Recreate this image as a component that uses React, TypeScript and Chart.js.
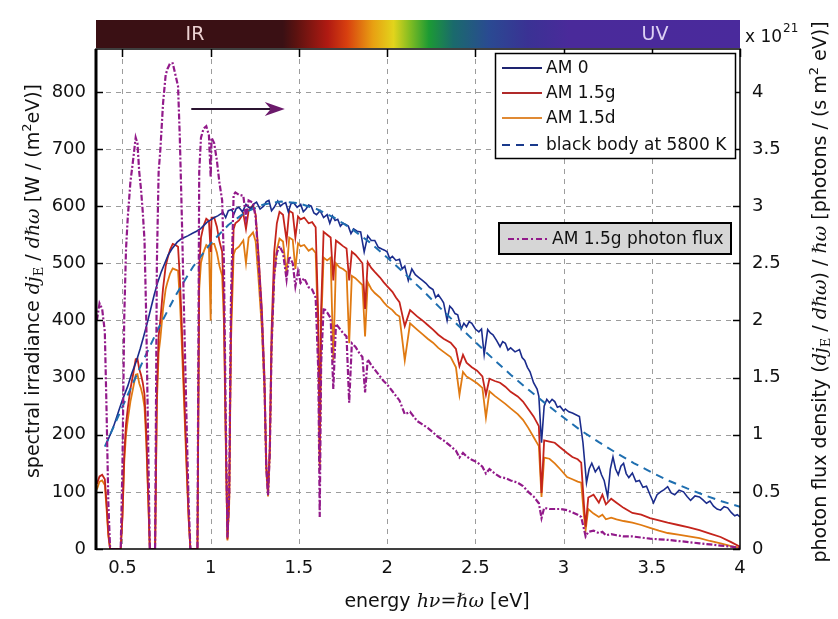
import React, { useEffect, useRef } from 'react';
import { Chart, registerables } from 'chart.js';
Chart.register(...registerables);

// ---- data ----
const energyAtm = [0.355,0.37,0.385,0.40,0.41,0.42,0.43,0.49,0.50,0.51,0.52,0.53,0.545,0.56,0.575,0.585,0.595,0.605,0.615,0.625,0.635,0.645,0.655,0.685,0.695,0.705,0.715,0.73,0.745,0.755,0.77,0.785,0.80,0.815,0.825,0.835,0.85,0.865,0.875,0.885,0.925,0.935,0.945,0.96,0.975,0.99,1.0,1.005,1.02,1.035,1.05,1.065,1.075,1.085,1.095,1.105,1.115,1.13,1.14,1.16,1.185,1.2,1.215,1.24,1.255,1.27,1.29,1.305,1.315,1.325,1.335,1.345,1.36,1.375,1.39,1.41,1.43,1.445,1.465,1.48,1.495,1.51,1.53,1.555,1.575,1.595,1.61,1.618,1.626,1.64,1.66,1.68,1.695,1.71,1.73,1.75,1.77,1.785,1.80,1.82,1.84,1.86,1.875,1.89,1.91,1.93,1.96,1.98,2.0,2.03,2.05,2.07,2.10,2.13,2.17,2.20,2.23,2.26,2.29,2.32,2.36,2.39,2.41,2.43,2.45,2.48,2.51,2.54,2.56,2.58,2.61,2.64,2.67,2.70,2.74,2.77,2.80,2.83,2.86,2.875,2.89,2.92,2.95,2.98,3.02,3.05,3.08,3.10,3.115,3.125,3.14,3.17,3.20,3.22,3.24,3.27,3.30,3.34,3.39,3.44,3.49,3.54,3.59,3.65,3.71,3.77,3.83,3.89,3.95,4.0];
const am15g = [114,127,130,122,79,27,0,0,60,165,218,246,280,305,332,333,315,305,291,270,203,103,0,0,278,373,401,456,495,508,524,534,532,529,476,401,272,139,56,0,0,494,545,566,578,574,520,580,580,564,538,520,430,209,17,88,393,560,570,575,587,560,592,602,585,520,420,300,150,100,180,380,520,570,590,585,540,592,588,545,582,577,580,570,572,563,400,150,420,555,550,545,470,540,535,530,526,470,520,515,508,500,420,502,492,485,475,467,460,450,440,432,390,418,407,400,392,384,375,368,361,350,320,340,326,318,312,302,270,298,294,291,284,275,267,258,245,232,215,98,190,188,186,178,168,161,157,151,80,39,90,95,81,95,78,88,81,72,63,60,54,50,46,42,38,33,27,21,12,4];
const am15d = [104,118,120,112,70,22,0,0,55,152,200,226,258,281,305,306,290,281,268,248,187,95,0,0,255,343,369,420,455,467,482,491,489,487,438,369,250,128,52,0,0,455,501,520,532,528,400,534,534,519,495,478,396,192,15,80,362,515,524,529,540,500,545,554,538,478,386,276,138,92,166,350,478,524,543,538,480,545,541,490,535,530,532,522,526,518,370,140,390,510,505,510,330,500,493,490,485,360,478,474,468,462,372,467,455,448,440,432,425,418,411,407,330,395,384,376,368,361,352,345,336,318,270,310,302,296,290,282,230,276,268,261,254,246,236,226,212,196,180,91,160,158,150,140,126,122,118,116,60,33,70,62,56,60,52,55,52,49,46,42,37,32,28,25,22,19,14,10,5,2];
const photonFlux = [2.00,2.15,2.10,1.90,1.20,0.40,0,0,0.75,2.02,2.62,2.90,3.21,3.40,3.60,3.55,3.30,3.15,2.95,2.70,2.00,1.00,0,0,2.50,3.30,3.50,3.90,4.15,4.20,4.25,4.25,4.15,4.05,3.60,3.00,2.00,1.00,0.40,0,0,3.30,3.60,3.68,3.70,3.62,3.25,3.60,3.55,3.40,3.20,3.05,2.50,1.20,0.10,0.50,2.20,3.10,3.12,3.10,3.09,2.90,3.05,3.03,2.90,2.55,2.03,1.43,0.71,0.47,0.84,1.76,2.39,2.59,2.65,2.59,2.36,2.56,2.50,2.30,2.43,2.33,2.37,2.29,2.27,2.20,1.55,0.28,1.62,2.11,2.07,2.02,1.40,1.97,1.93,1.89,1.86,1.28,1.80,1.77,1.72,1.68,1.37,1.66,1.61,1.57,1.51,1.47,1.44,1.38,1.34,1.30,1.18,1.20,1.12,1.09,1.06,1.02,0.98,0.95,0.90,0.86,0.80,0.84,0.81,0.78,0.76,0.72,0.66,0.70,0.66,0.63,0.62,0.60,0.58,0.55,0.50,0.46,0.40,0.27,0.36,0.35,0.35,0.35,0.34,0.32,0.30,0.28,0.18,0.11,0.15,0.16,0.14,0.15,0.12,0.13,0.12,0.11,0.11,0.10,0.09,0.085,0.08,0.07,0.06,0.05,0.04,0.03,0.02,0.01];
const energyAm0 = [0.41,0.43,0.45,0.48,0.50,0.53,0.55,0.58,0.60,0.62,0.64,0.66,0.68,0.70,0.72,0.74,0.76,0.78,0.80,0.81,0.83,0.85,0.87,0.90,0.92,0.94,0.96,0.98,1.00,1.02,1.04,1.07,1.085,1.10,1.12,1.13,1.145,1.16,1.18,1.20,1.215,1.23,1.245,1.26,1.28,1.30,1.315,1.33,1.345,1.36,1.38,1.395,1.41,1.425,1.44,1.455,1.47,1.49,1.51,1.525,1.54,1.555,1.57,1.585,1.60,1.62,1.64,1.66,1.675,1.69,1.705,1.72,1.735,1.75,1.765,1.78,1.795,1.81,1.83,1.85,1.87,1.89,1.91,1.93,1.95,1.97,1.985,2.0,2.015,2.03,2.05,2.07,2.085,2.10,2.12,2.14,2.16,2.18,2.20,2.22,2.24,2.26,2.275,2.29,2.31,2.32,2.34,2.355,2.37,2.385,2.40,2.42,2.435,2.45,2.465,2.48,2.50,2.52,2.535,2.55,2.57,2.585,2.60,2.62,2.64,2.655,2.67,2.685,2.70,2.725,2.75,2.765,2.78,2.795,2.81,2.83,2.85,2.86,2.875,2.89,2.905,2.92,2.935,2.95,2.965,2.98,3.0,3.01,3.03,3.05,3.07,3.09,3.11,3.13,3.145,3.16,3.18,3.2,3.215,3.23,3.25,3.265,3.28,3.295,3.31,3.325,3.34,3.355,3.37,3.39,3.41,3.43,3.45,3.47,3.49,3.51,3.53,3.55,3.57,3.59,3.61,3.63,3.655,3.68,3.70,3.72,3.745,3.77,3.79,3.81,3.83,3.85,3.87,3.89,3.91,3.93,3.95,3.97,3.985,4.0];
const am0 = [185,200,215,243,261,285,305,330,350,372,395,420,445,467,485,500,515,525,533,537,542,545,548,553,556,560,566,572,576,580,583,589,580,592,594,585,596,598,590,603,598,596,604,607,595,600,608,610,592,598,609,600,604,606,590,604,606,598,603,590,595,602,600,588,585,592,580,585,570,583,575,577,565,570,568,565,552,560,556,555,520,548,540,540,528,525,523,520,508,512,505,507,490,495,470,490,480,475,470,465,458,454,440,445,436,431,400,425,420,412,410,385,395,389,398,395,385,380,385,340,384,378,375,365,354,363,360,348,352,345,349,335,330,318,310,291,280,267,186,250,262,256,262,258,248,250,242,245,240,238,235,232,186,116,140,150,135,144,130,120,91,140,161,140,130,145,150,132,125,133,118,120,108,110,95,81,95,100,104,109,98,95,103,100,92,85,93,91,86,80,84,75,70,68,74,72,64,58,60,56];
const energyBB = [0.4,0.5,0.6,0.7,0.8,0.9,1.0,1.1,1.2,1.3,1.4,1.5,1.6,1.7,1.8,1.9,2.0,2.1,2.2,2.3,2.4,2.5,2.6,2.7,2.8,2.9,3.0,3.1,3.2,3.3,3.4,3.5,3.6,3.7,3.8,3.9,4.0];
const blackBody = [179,249,318,384,443,494,535,567,590,603,608,605,595,580,560,537,510,482,453,422,392,362,333,305,279,254,230,207,187,168,150,134,119,106,94,83,74];

const xRange = [0.35, 4];
const yLeftRange = [0, 875];
const yRightRange = [0, 4.375];
const legendMain = ['AM 0', 'AM 1.5g', 'AM 1.5d', 'black body at 5800 K'];
const legendFlux = 'AM 1.5g photon flux';

const C_AM0 = '#1b2c8c';
const C_G = '#c4241c';
const C_D = '#e07a12';
const C_BB = '#1f6fb0';
const C_PF = '#921a8a';

const SANS = '19px "DejaVu Sans"';
const MATH = 'italic 19px "DejaVu Serif"';
const SUB = '13px "DejaVu Serif"';
const SUP = '13px "DejaVu Sans"';

type Seg = { t: string; f: string; dy?: number };

function drawSegs(ctx: CanvasRenderingContext2D, segs: Seg[], cx: number, cy: number, rot: number) {
  ctx.save();
  ctx.translate(cx, cy);
  if (rot) ctx.rotate(rot);
  ctx.textAlign = 'left';
  ctx.textBaseline = 'alphabetic';
  ctx.fillStyle = '#111';
  let w = 0;
  for (const s of segs) { ctx.font = s.f; w += ctx.measureText(s.t).width; }
  let x = -w / 2;
  for (const s of segs) {
    ctx.font = s.f;
    ctx.fillText(s.t, x, 6 + (s.dy || 0));
    x += ctx.measureText(s.t).width;
  }
  ctx.restore();
}

const fmt = (v: any) => String(Math.round(Number(v) * 100) / 100);

const decorPlugin = {
  id: 'decor',
  beforeDraw(chart: any) {
    const { ctx, width, height } = chart;
    ctx.save();
    ctx.fillStyle = '#fff';
    ctx.fillRect(0, 0, width, height);
    ctx.restore();
  },
  beforeDatasetsDraw(chart: any) {
    const { ctx, chartArea: a, scales } = chart;
    ctx.save();
    ctx.strokeStyle = '#9c9c9c';
    ctx.lineWidth = 1;
    ctx.setLineDash([5, 5]);
    scales.x.ticks.forEach((t: any) => {
      const px = Math.round(scales.x.getPixelForValue(t.value)) + 0.5;
      if (px > a.right - 2) return;
      ctx.beginPath(); ctx.moveTo(px, a.top); ctx.lineTo(px, a.bottom); ctx.stroke();
    });
    scales.y.ticks.forEach((t: any) => {
      if (t.value === 0) return;
      const py = Math.round(scales.y.getPixelForValue(t.value)) + 0.5;
      ctx.beginPath(); ctx.moveTo(a.left, py); ctx.lineTo(a.right, py); ctx.stroke();
    });
    ctx.restore();
  },
  afterDatasetsDraw(chart: any) {
    const { ctx, chartArea: a, scales } = chart;
    ctx.save();
    // frame
    ctx.setLineDash([]);
    ctx.strokeStyle = '#000';
    ctx.lineWidth = 1.5;
    ctx.strokeRect(a.left, a.top, a.right - a.left, a.bottom - a.top);
    ctx.lineWidth = 3;
    ctx.beginPath(); ctx.moveTo(a.left, a.top); ctx.lineTo(a.left, a.bottom + 1); ctx.stroke();
    // tick marks (inside)
    ctx.lineWidth = 1.5;
    scales.y.ticks.forEach((t: any) => {
      const py = Math.round(scales.y.getPixelForValue(t.value)) + 0.5;
      ctx.beginPath(); ctx.moveTo(a.left, py); ctx.lineTo(a.left + 7, py); ctx.stroke();
    });
    scales.y1.ticks.forEach((t: any) => {
      const py = Math.round(scales.y1.getPixelForValue(t.value)) + 0.5;
      ctx.beginPath(); ctx.moveTo(a.right - 7, py); ctx.lineTo(a.right, py); ctx.stroke();
    });
    scales.x.ticks.forEach((t: any) => {
      const px = Math.round(scales.x.getPixelForValue(t.value)) + 0.5;
      ctx.beginPath(); ctx.moveTo(px, a.top); ctx.lineTo(px, a.top + 8); ctx.stroke();
    });

    // spectrum bar
    const barTop = a.top - 29, barH = 28;
    const g = ctx.createLinearGradient(a.left, 0, a.right, 0);
    const stops: [number, string][] = [
      [0, '#3a1014'], [0.29, '#3a1014'], [0.31, '#5a1210'], [0.36, '#b01a12'], [0.39, '#d8400f'],
      [0.43, '#e8a012'], [0.462, '#e2d41c'], [0.488, '#80bc22'], [0.517, '#1c9a34'], [0.555, '#1a6a6c'],
      [0.61, '#2a4a92'], [0.67, '#3a3294'], [0.735, '#4a2a9a'], [1, '#4a2a9c']];
    stops.forEach(([o, c]) => g.addColorStop(o, c));
    ctx.fillStyle = g;
    ctx.fillRect(a.left, barTop, a.right - a.left, barH);
    ctx.font = '19px "DejaVu Sans"';
    ctx.textAlign = 'center';
    ctx.textBaseline = 'middle';
    ctx.fillStyle = '#ecd2d2';
    ctx.fillText('IR', 195, barTop + barH / 2 + 1);
    ctx.fillStyle = '#dcd0f4';
    ctx.fillText('UV', 655, barTop + barH / 2 + 1);

    // x 10^21
    ctx.fillStyle = '#111';
    ctx.textAlign = 'left';
    ctx.textBaseline = 'alphabetic';
    ctx.font = '17px "DejaVu Sans"';
    ctx.fillText('x 10', a.right + 5, barTop + 22);
    const w10 = ctx.measureText('x 10').width;
    ctx.font = '12px "DejaVu Sans"';
    ctx.fillText('21', a.right + 6 + w10, barTop + 12);

    // arrow (data coordinates)
    const ax1 = scales.x.getPixelForValue(0.89), ax2 = scales.x.getPixelForValue(1.42);
    const ay = scales.y.getPixelForValue(770);
    ctx.strokeStyle = '#2a1430';
    ctx.lineWidth = 2;
    ctx.beginPath(); ctx.moveTo(ax1, ay); ctx.lineTo(ax2 - 14, ay); ctx.stroke();
    ctx.fillStyle = '#6b1a6b';
    ctx.beginPath(); ctx.moveTo(ax2, ay); ctx.lineTo(ax2 - 20, ay - 7); ctx.lineTo(ax2 - 14, ay); ctx.lineTo(ax2 - 20, ay + 7); ctx.closePath(); ctx.fill();

    // legend box 1
    ctx.fillStyle = '#fff';
    ctx.fillRect(495, 53, 240, 105);
    ctx.strokeStyle = '#000';
    ctx.lineWidth = 1.5;
    ctx.strokeRect(495.5, 53.5, 240, 105);
    const rows = [68, 93, 118, 145];
    const legCols = ['#1e2470', '#b02a2a', '#e08a34', '#1a3a8c'];
    legendMain.forEach((label, i) => {
      ctx.strokeStyle = legCols[i];
      ctx.lineWidth = 2;
      ctx.setLineDash(i === 3 ? [8, 6] : []);
      ctx.beginPath(); ctx.moveTo(502, rows[i]); ctx.lineTo(542, rows[i]); ctx.stroke();
      ctx.setLineDash([]);
      ctx.fillStyle = '#111';
      ctx.font = '17px "DejaVu Sans"';
      ctx.textBaseline = 'middle';
      ctx.fillText(label, 546, rows[i] + 1);
    });
    // legend box 2
    ctx.fillStyle = '#d6d6d6';
    ctx.fillRect(499, 223, 232, 31);
    ctx.strokeStyle = '#000';
    ctx.lineWidth = 2;
    ctx.strokeRect(499, 223, 232, 31);
    ctx.strokeStyle = C_PF;
    ctx.lineWidth = 2;
    ctx.setLineDash([6, 3, 2, 3]);
    ctx.beginPath(); ctx.moveTo(508, 239); ctx.lineTo(548, 239); ctx.stroke();
    ctx.setLineDash([]);
    ctx.fillStyle = '#111';
    ctx.font = '17px "DejaVu Sans"';
    ctx.fillText(legendFlux, 552, 240);

    // axis titles
    drawSegs(ctx, [
      { t: 'spectral irradiance ', f: SANS }, { t: 'dj', f: MATH }, { t: 'E', f: SUB, dy: 4 },
      { t: ' / ', f: SANS }, { t: 'dℏω', f: MATH }, { t: ' [W / (m', f: SANS }, { t: '2', f: SUP, dy: -8 },
      { t: 'eV)]', f: SANS }], 33, 281, -Math.PI / 2);
    drawSegs(ctx, [
      { t: 'photon flux density (', f: SANS }, { t: 'dj', f: MATH }, { t: 'E', f: SUB, dy: 4 },
      { t: ' / ', f: SANS }, { t: 'dℏω', f: MATH }, { t: ') / ', f: SANS }, { t: 'ℏω', f: MATH },
      { t: ' [photons / (s m', f: SANS }, { t: '2', f: SUP, dy: -8 }, { t: ' eV)]', f: SANS }], 820, 292, -Math.PI / 2);
    drawSegs(ctx, [
      { t: 'energy ', f: SANS }, { t: 'hν', f: MATH }, { t: '=', f: '19px "DejaVu Serif"' }, { t: 'ℏω', f: MATH },
      { t: ' [eV]', f: SANS }], 437, 601, 0);
    ctx.restore();
  },
};

export default function App() {
  const ref = useRef<HTMLCanvasElement>(null);
  useEffect(() => {
    document.body.style.margin = '0';
    const canvas = ref.current;
    if (!canvas) return;
    const pts = (xs: number[], ys: number[]) => xs.map((x, i) => ({ x, y: ys[i] }));
    const tickFont = { family: '"DejaVu Sans"', size: 18 };
    const chart = new Chart(canvas, {
      type: 'line',
      data: {
        datasets: [
          { label: 'AM 1.5d', data: pts(energyAtm, am15d), borderColor: C_D, borderWidth: 1.8, order: 5, yAxisID: 'y' },
          { label: 'AM 1.5g', data: pts(energyAtm, am15g), borderColor: C_G, borderWidth: 1.8, order: 4, yAxisID: 'y' },
          { label: 'AM 0', data: pts(energyAm0, am0), borderColor: C_AM0, borderWidth: 1.6, order: 3, yAxisID: 'y' },
          { label: 'black body at 5800 K', data: pts(energyBB, blackBody), borderColor: C_BB, borderWidth: 2, borderDash: [8, 6], order: 2, yAxisID: 'y' },
          { label: 'AM 1.5g photon flux', data: pts(energyAtm, photonFlux), borderColor: C_PF, borderWidth: 2.2, borderDash: [6, 2, 2, 2], order: 1, yAxisID: 'y1' },
        ] as any,
      },
      options: {
        animation: false,
        responsive: false,
        layout: { padding: { top: 49, left: 0, right: 0, bottom: 0 } },
        elements: { point: { radius: 0 }, line: { tension: 0, fill: false } },
        plugins: { legend: { display: false }, tooltip: { enabled: false } },
        scales: {
          x: {
            type: 'linear', min: xRange[0], max: xRange[1],
            grid: { display: false }, border: { display: false },
            ticks: { stepSize: 0.5, includeBounds: false, font: tickFont, color: '#111', padding: 1, maxRotation: 0, callback: fmt },
            afterFit: (s: any) => { s.height = 70; },
          },
          y: {
            type: 'linear', position: 'left', min: yLeftRange[0], max: yLeftRange[1],
            grid: { display: false }, border: { display: false },
            ticks: { stepSize: 100, includeBounds: false, font: tickFont, color: '#111', padding: 2, callback: fmt },
            afterFit: (s: any) => { s.width = 96; },
          },
          y1: {
            type: 'linear', position: 'right', min: yRightRange[0], max: yRightRange[1],
            grid: { display: false }, border: { display: false },
            ticks: { stepSize: 0.5, includeBounds: false, font: tickFont, color: '#111', padding: 4, callback: fmt },
            afterFit: (s: any) => { s.width = 98; },
          },
        },
      } as any,
      plugins: [decorPlugin],
    });
    return () => chart.destroy();
  }, []);
  return (
    <div style={{ width: 838, height: 619, position: 'relative' }}>
      <canvas ref={ref} width={838} height={619} style={{ display: 'block' }} />
    </div>
  );
}
